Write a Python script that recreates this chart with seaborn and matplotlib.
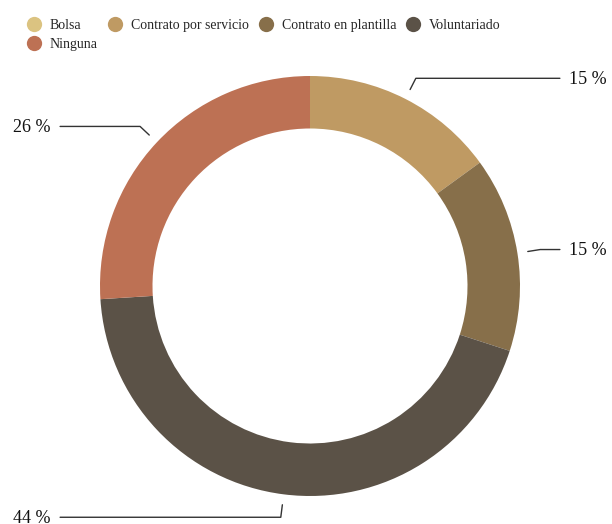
import numpy as np
import matplotlib
matplotlib.use("Agg")
import matplotlib.pyplot as plt
import seaborn as sns
from matplotlib.lines import Line2D

categories = ["Bolsa", "Contrato por servicio", "Contrato en plantilla", "Voluntariado", "Ninguna"]
values = [0, 15, 15, 44, 26]
palette = ["#dbc381", "#bf9a63", "#876f4a", "#5b5247", "#bd7154"]

sns.set_theme(style="white")
plt.rcParams["font.family"] = ["Liberation Serif", "DejaVu Serif"]

W, H = 612, 524
fig = plt.figure(figsize=(W / 100, H / 100), dpi=100)
cx, cy, R = 310, 238, 210
ax = fig.add_axes([(cx - R) / W, (cy - R) / H, 2 * R / W, 2 * R / H])

colors = sns.color_palette(palette)
wedges, _ = ax.pie(values, colors=colors, startangle=90, counterclock=False,
                   radius=1.0, wedgeprops=dict(width=0.25, edgecolor="none"))
ax.set_xlim(-1, 1)
ax.set_ylim(-1, 1)
ax.set_aspect("equal")
ax.axis("off")

# elbow leader lines with percentage labels
total = sum(values)
start = 0.0
for v in values:
    if v == 0:
        continue
    mid = np.deg2rad(360 * (start + v / 2) / total)
    start += v
    sx, sy = 1.05 * np.sin(mid), 1.05 * np.cos(mid)
    ex, ey = 1.11 * np.sin(mid), 1.11 * np.cos(mid)
    side = 1 if sx >= 0 else -1
    hx = 1.19 * side
    ax.plot([sx, ex, hx], [sy, ey, ey], color="#333333", lw=1.0, clip_on=False)
    ax.text(hx + 0.045 * side, ey - 0.006, f"{v} %", ha="left" if side > 0 else "right",
            va="center", fontsize=13, color="#111111", clip_on=False)

# legend laid out row by row
order = [0, 4, 1, 2, 3]
handles = [Line2D([0], [0], marker="o", linestyle="none", markersize=11,
                  markerfacecolor=colors[i], markeredgecolor="none") for i in order]
labels = [categories[i] for i in order]
fig.legend(handles, labels, ncol=4, loc="upper left", bbox_to_anchor=(0.042, 0.964),
           frameon=False, fontsize=10, handletextpad=0.55, columnspacing=0.62,
           labelspacing=0.42, borderaxespad=0, borderpad=0, handlelength=1.2)

fig.savefig("out.png", dpi=100)
